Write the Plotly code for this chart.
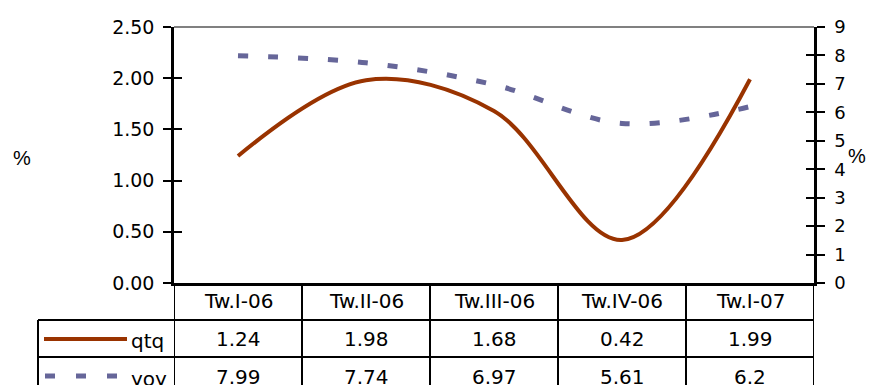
import plotly.graph_objects as go

# Quarterly growth data
categories = ["Tw.I-06", "Tw.II-06", "Tw.III-06", "Tw.IV-06", "Tw.I-07"]
qtq = [1.24, 1.98, 1.68, 0.42, 1.99]
yoy = [7.99, 7.74, 6.97, 5.61, 6.2]
left_ticks = [0, 0.5, 1.0, 1.5, 2.0, 2.5]
right_ticks = list(range(0, 10))

W, H = 869, 385
L, R, T, B = 174, 55, 27, 102
PW, PH = W - L - R, H - T - B

QTQ_COLOR = "#993300"
YOY_COLOR = "#666699"
FONT = "DejaVu Sans"


def px(xpix):
    return (xpix - L) / PW


def py(ypix):
    return (H - B - ypix) / PH


fig = go.Figure()

fig.add_trace(go.Scatter(
    x=categories, y=qtq, name="qtq", mode="lines",
    line=dict(color=QTQ_COLOR, width=4, shape="spline", smoothing=1.0),
    yaxis="y",
))
fig.add_trace(go.Scatter(
    x=categories, y=yoy, name="yoy", mode="lines",
    line=dict(color=YOY_COLOR, width=5, shape="spline", smoothing=1.0,
              dash="10px,20px"),
    yaxis="y2",
))
# placeholder traces so the inner tick axes are drawn
fig.add_trace(go.Scatter(x=[None], y=[None], yaxis="y3", showlegend=False,
                         hoverinfo="skip"))
fig.add_trace(go.Scatter(x=[None], y=[None], yaxis="y4", showlegend=False,
                         hoverinfo="skip"))

shapes = []
annotations = []

# plot area top border
shapes.append(dict(type="line", xref="paper", yref="paper", x0=0, x1=1,
                   y0=1, y1=1, line=dict(color="#808080", width=2)))

# data table grid
row_lines = [283, 320, 357]
bottom = 400
for i in range(len(categories) + 1):
    shapes.append(dict(type="line", xref="x", yref="paper",
                       x0=i - 0.5, x1=i - 0.5, y0=0, y1=py(bottom),
                       line=dict(color="black", width=2)))
shapes.append(dict(type="line", xref="paper", yref="paper",
                   x0=px(38), x1=px(38), y0=py(320), y1=py(bottom),
                   line=dict(color="black", width=2)))
for r in row_lines[1:]:
    shapes.append(dict(type="line", xref="paper", yref="paper",
                       x0=px(38), x1=1, y0=py(r), y1=py(r),
                       line=dict(color="black", width=2)))

# legend keys inside the table
shapes.append(dict(type="line", xref="paper", yref="paper",
                   x0=px(44), x1=px(127), y0=py(339), y1=py(339),
                   line=dict(color=QTQ_COLOR, width=4)))
shapes.append(dict(type="line", xref="paper", yref="paper",
                   x0=px(45), x1=px(118), y0=py(376), y1=py(376),
                   line=dict(color=YOY_COLOR, width=5, dash="10px,21px")))

tfont = dict(family=FONT, size=20, color="black")
annotations.append(dict(text="qtq", xref="paper", yref="paper", x=px(129),
                        y=py(341), xanchor="left", yanchor="middle",
                        showarrow=False, font=tfont))
annotations.append(dict(text="yoy", xref="paper", yref="paper", x=px(129),
                        y=py(379), xanchor="left", yanchor="middle",
                        showarrow=False, font=tfont))

rows = [(301, categories), (339, [f"{v:g}" for v in qtq]),
        (377, [f"{v:g}" for v in yoy])]
for ycen, labels in rows:
    for cat, lab in zip(categories, labels):
        annotations.append(dict(text=lab, xref="x", yref="paper", x=cat,
                                y=py(ycen), xanchor="center",
                                yanchor="middle", showarrow=False,
                                font=tfont))

# axis titles
pfont = dict(family="Liberation Sans", size=20, color="black")
annotations.append(dict(text="%", xref="paper", yref="paper", x=px(22),
                        y=py(158), xanchor="center", yanchor="middle",
                        showarrow=False, font=pfont))
annotations.append(dict(text="%", xref="paper", yref="paper", x=px(857),
                        y=py(156), xanchor="center", yanchor="middle",
                        showarrow=False, font=pfont))

axis_common = dict(showgrid=False, zeroline=False, fixedrange=True)

fig.update_layout(
    width=W, height=H,
    margin=dict(l=L, r=R, t=T, b=B, pad=0),
    paper_bgcolor="white", plot_bgcolor="white",
    showlegend=False,
    xaxis=dict(type="category", categoryorder="array",
               categoryarray=categories, range=[-0.5, len(categories) - 0.5],
               showticklabels=False, ticks="", showline=True,
               linecolor="black", linewidth=2.5, **axis_common),
    yaxis=dict(range=[0, 2.5], tickvals=left_ticks, tickformat=".2f",
               ticks="outside", ticklen=8, tickwidth=2, tickcolor="black",
               showline=True, linecolor="black", linewidth=2.5,
               ticklabelstandoff=5,
               tickfont=dict(family=FONT, size=19, color="black"),
               **axis_common),
    yaxis2=dict(range=[0, 9], tickvals=right_ticks, overlaying="y",
                side="right", ticks="outside", ticklen=8, tickwidth=2,
                tickcolor="black", showline=True, linecolor="black",
                linewidth=2.5, ticklabelstandoff=6,
                tickfont=dict(family=FONT, size=18, color="black"),
                **axis_common),
    yaxis3=dict(range=[0, 2.5], tickvals=left_ticks, overlaying="y",
                side="left", ticks="inside", ticklen=8, tickwidth=2,
                tickcolor="black", showticklabels=False, showline=False,
                **axis_common),
    yaxis4=dict(range=[0, 9], tickvals=right_ticks, overlaying="y",
                side="right", ticks="inside", ticklen=8, tickwidth=2,
                tickcolor="black", showticklabels=False, showline=False,
                **axis_common),
    shapes=shapes,
    annotations=annotations,
)

fig.write_html("out.html")
